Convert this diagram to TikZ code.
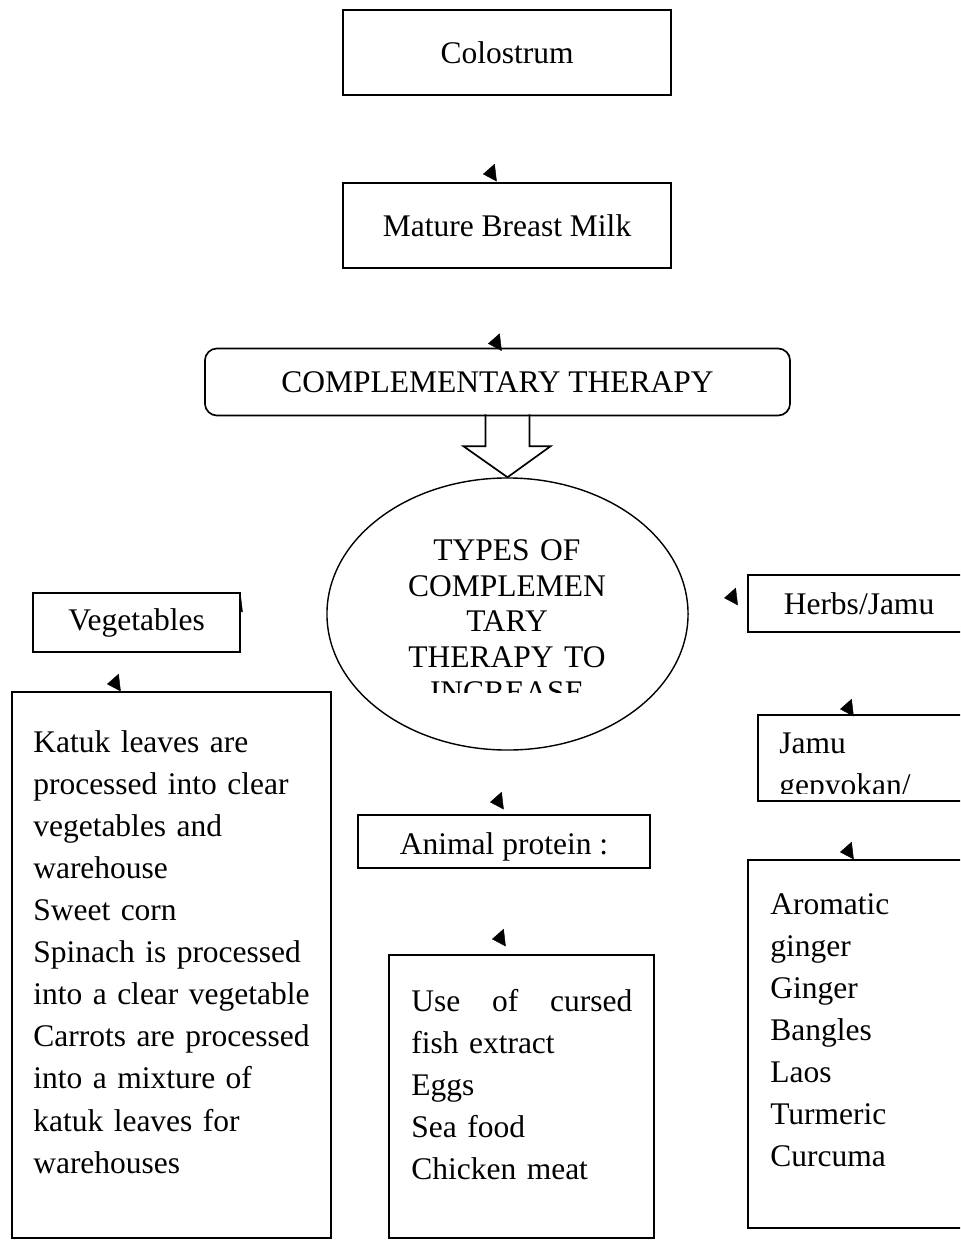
\documentclass[tikz,border=0pt]{standalone}
\usepackage{fontspec}
\setmainfont{Liberation Serif}
\usetikzlibrary{arrows.meta, shapes.geometric}

\newcommand{\bodyfont}{\fontsize{22.4pt}{29.95pt}\selectfont}
\newcommand{\ovalfont}{\fontsize{22.4pt}{25.25pt}\selectfont}

\tikzset{
  box/.style={draw, line width=1.2pt, fill=white, inner sep=0pt, font=\bodyfont},
  list/.style={inner sep=0pt, align=left, text width=7.5cm, font=\bodyfont},
  tip/.style={-{Triangle[length=0.32cm, width=0.44cm]}, line width=0.3pt},
}

\begin{document}
\begin{tikzpicture}[x=0.025cm, y=-0.025cm]
\clip (0,0) rectangle (960,1240);
\fill[white] (0,0) rectangle (960,1240);

\node[box, minimum width=8.2cm, minimum height=2.125cm] (colostrum) at (507,52.5) {Colostrum};
\node[box, minimum width=8.2cm, minimum height=2.125cm] (milk) at (507,225.5) {Mature Breast Milk};
\node[box, rounded corners=0.3cm, minimum width=14.625cm, minimum height=1.675cm]
    (therapy) at (497.5,382) {COMPLEMENTARY THERAPY};

\node[draw, ellipse, line width=1pt, inner sep=0pt, minimum width=9.025cm, minimum height=6.8cm]
    (types) at (507.5,614) {};
\begin{scope}
\clip (330,500) rectangle (690,692);
\node[inner sep=0pt, align=center, text width=8cm, font=\ovalfont, anchor=base]
    (typestext) at (507,560.5) {TYPES OF\\COMPLEMEN\\TARY\\THERAPY TO\\INCREASE};
\end{scope}

\draw[line width=1.2pt] (types.north) ++(-22,-63) -- ++(0,32) -- ++(-22,0) -- (types.north)
    -- ++(43,-31) -- ++(-21,0) -- ++(0,-32);

\coordinate (vegin) at (229,605);
\draw[tip] ([shift={(12.75,-1.5)}]vegin) -- (vegin);
\node[box, minimum width=5.175cm, minimum height=1.475cm] (veg) at (136.5,622.5) {Vegetables};
\node[box, minimum width=5.55cm, minimum height=1.425cm] (herbs) at (859,603.5) {Herbs/Jamu};

\node[box, minimum width=7.975cm, minimum height=13.65cm] (veglist) at (171.5,965) {};
\node[list, anchor=base west] (vegtext) at (33,752)
    {Katuk leaves are\\processed into clear\\vegetables and\\warehouse\\Sweet corn\\
     Spinach is processed\\into a clear vegetable\\Carrots are processed\\
     into a mixture of\\katuk leaves for\\warehouses};

\node[box, minimum width=7.3cm, minimum height=1.325cm] (animal) at (504,841.5) {};
\node[font=\bodyfont, inner sep=0pt, anchor=base] (animaltext) at (504,854) {Animal protein :};
\node[box, minimum width=6.625cm, minimum height=7.075cm] (fishlist) at (521.5,1096.5) {};
\node[list, text width=5.525cm, anchor=base west] (fishtext) at (411,1011)
    {\makebox[\linewidth]{Use\hfill of\hfill cursed}\\fish extract\\Eggs\\Sea food\\Chicken meat};

\node[box, minimum width=5.3cm, minimum height=2.15cm] (jamu) at (864,758) {};
\begin{scope}
\clip (760,717) rectangle (960,793);
\node[list, anchor=base west] (jamutext) at (779,753) {Jamu\\gepyokan/};
\end{scope}

\node[box, minimum width=5.55cm, minimum height=9.2cm] (herblist) at (859,1044) {};
\node[list, anchor=base west] (herbtext) at (770,914)
    {Aromatic\\ginger\\Ginger\\Bangles\\Laos\\Turmeric\\Curcuma};

\coordinate (milkin) at ([shift={(-24,-8)}]milk.north);
\coordinate (therapyin) at ([shift={(-9.5,-4)}]therapy.north);
\coordinate (herbsin) at ([shift={(-23,-5.5)}]herbs.west);
\coordinate (veglistin) at ([shift={(-64.5,-7)}]veglist.north);
\coordinate (animalin) at ([shift={(-14,-12)}]animal.north);
\coordinate (fishlistin) at ([shift={(-29.5,-15)}]fishlist.north);
\coordinate (jamuin) at ([shift={(-24,-5)}]jamu.north);
\coordinate (herblistin) at ([shift={(-19,-7)}]herblist.north);
\draw[tip] ([shift={(12.75,-1.5)}]milkin) -- (milkin);
\draw[tip] ([shift={(12.75,-1.5)}]therapyin) -- (therapyin);
\draw[tip] ([shift={(12.75,-1.5)}]herbsin) -- (herbsin);
\draw[tip] ([shift={(12.75,-1.5)}]veglistin) -- (veglistin);
\draw[tip] ([shift={(12.75,-1.5)}]animalin) -- (animalin);
\draw[tip] ([shift={(12.75,-1.5)}]fishlistin) -- (fishlistin);
\draw[tip] ([shift={(12.75,-1.5)}]jamuin) -- (jamuin);
\draw[tip] ([shift={(12.75,-1.5)}]herblistin) -- (herblistin);
\end{tikzpicture}
\end{document}
